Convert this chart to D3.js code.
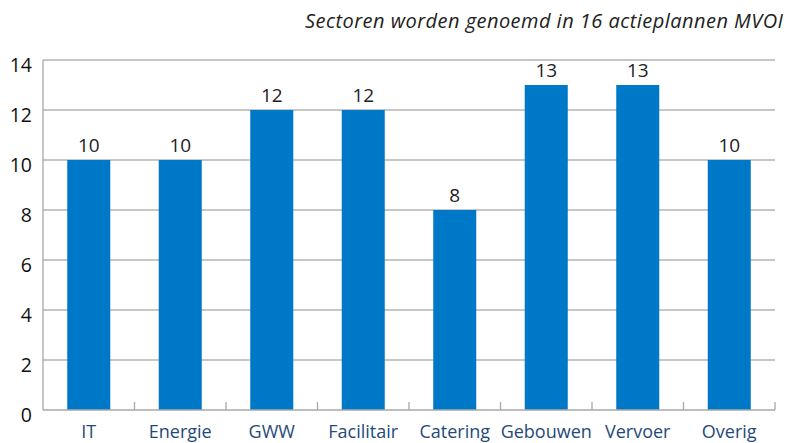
<!DOCTYPE html>
<html>
<head>
<meta charset="utf-8">
<script src="https://cdn.jsdelivr.net/npm/d3@7"></script>
<style>
  body { margin: 0; background: #fff; }
  text { font-family: "Open Sans", "Noto Sans", sans-serif; }
</style>
</head>
<body>
<svg id="chart" width="793" height="443"></svg>
<script>
const sectors = ["IT", "Energie", "GWW", "Facilitair", "Catering", "Gebouwen", "Vervoer", "Overig"];
const counts = [10, 10, 12, 12, 8, 13, 13, 10];
const yTicks = [0, 2, 4, 6, 8, 10, 12, 14];
const title = "Sectoren worden genoemd in 16 actieplannen MVOI";

const svg = d3.select("#chart");
const m = { left: 43, right: 775, top: 60, bottom: 410 };

const x = d3.scaleBand().domain(sectors).range([m.left, m.right]).paddingInner(0.53).paddingOuter(0.265);
const xb = d3.scaleBand().domain(sectors).range([m.left, m.right]);
const y = d3.scaleLinear().domain([0, 14]).range([m.bottom, m.top]);

// grid
svg.append("g").selectAll("line").data(yTicks.filter(d => d > 0)).join("line")
  .attr("x1", m.left).attr("x2", m.right)
  .attr("y1", d => y(d)).attr("y2", d => y(d))
  .attr("stroke", "#b3b3b3").attr("stroke-width", 1.3);

// bars
svg.append("g").selectAll("rect").data(counts).join("rect")
  .attr("x", (d, i) => x(sectors[i]))
  .attr("width", x.bandwidth())
  .attr("y", d => y(d))
  .attr("height", d => y(0) - y(d))
  .attr("fill", "#0078c8");

// value labels
svg.append("g").selectAll("text").data(counts).join("text")
  .attr("x", (d, i) => x(sectors[i]) + x.bandwidth() / 2)
  .attr("y", d => y(d) - 8)
  .attr("text-anchor", "middle")
  .attr("font-size", 19).attr("fill", "#222")
  .text(d => d);

// axes lines
const axisCol = "#a8a8a8";
svg.append("line").attr("x1", m.left).attr("x2", m.left).attr("y1", m.top).attr("y2", m.bottom)
  .attr("stroke", axisCol).attr("stroke-width", 1.3);
svg.append("line").attr("x1", m.left).attr("x2", m.right).attr("y1", m.bottom).attr("y2", m.bottom)
  .attr("stroke", axisCol).attr("stroke-width", 1.5);
const tickX = sectors.slice(1).map(d => xb(d)).concat([m.right]);
svg.append("g").selectAll("line").data(tickX).join("line")
  .attr("x1", d => d).attr("x2", d => d)
  .attr("y1", m.bottom - 8).attr("y2", m.bottom)
  .attr("stroke", axisCol).attr("stroke-width", 1.3);

// y tick labels
svg.append("g").selectAll("text").data(yTicks).join("text")
  .attr("x", 32).attr("y", d => y(d) + 11.5)
  .attr("text-anchor", "end")
  .attr("font-size", 19.5).attr("fill", "#111")
  .text(d => d);

// category labels
svg.append("g").selectAll("text").data(sectors).join("text")
  .attr("x", d => xb(d) + xb.bandwidth() / 2)
  .attr("y", 438)
  .attr("text-anchor", "middle")
  .attr("font-size", 18).attr("fill", "#1f4a7a")
  .text(d => d);

// title
svg.append("text")
  .attr("x", 783).attr("y", 28)
  .attr("text-anchor", "end")
  .attr("font-size", 20).attr("font-style", "italic").attr("fill", "#222")
  .attr("textLength", 478).attr("lengthAdjust", "spacing")
  .text(title);
</script>
</body>
</html>
